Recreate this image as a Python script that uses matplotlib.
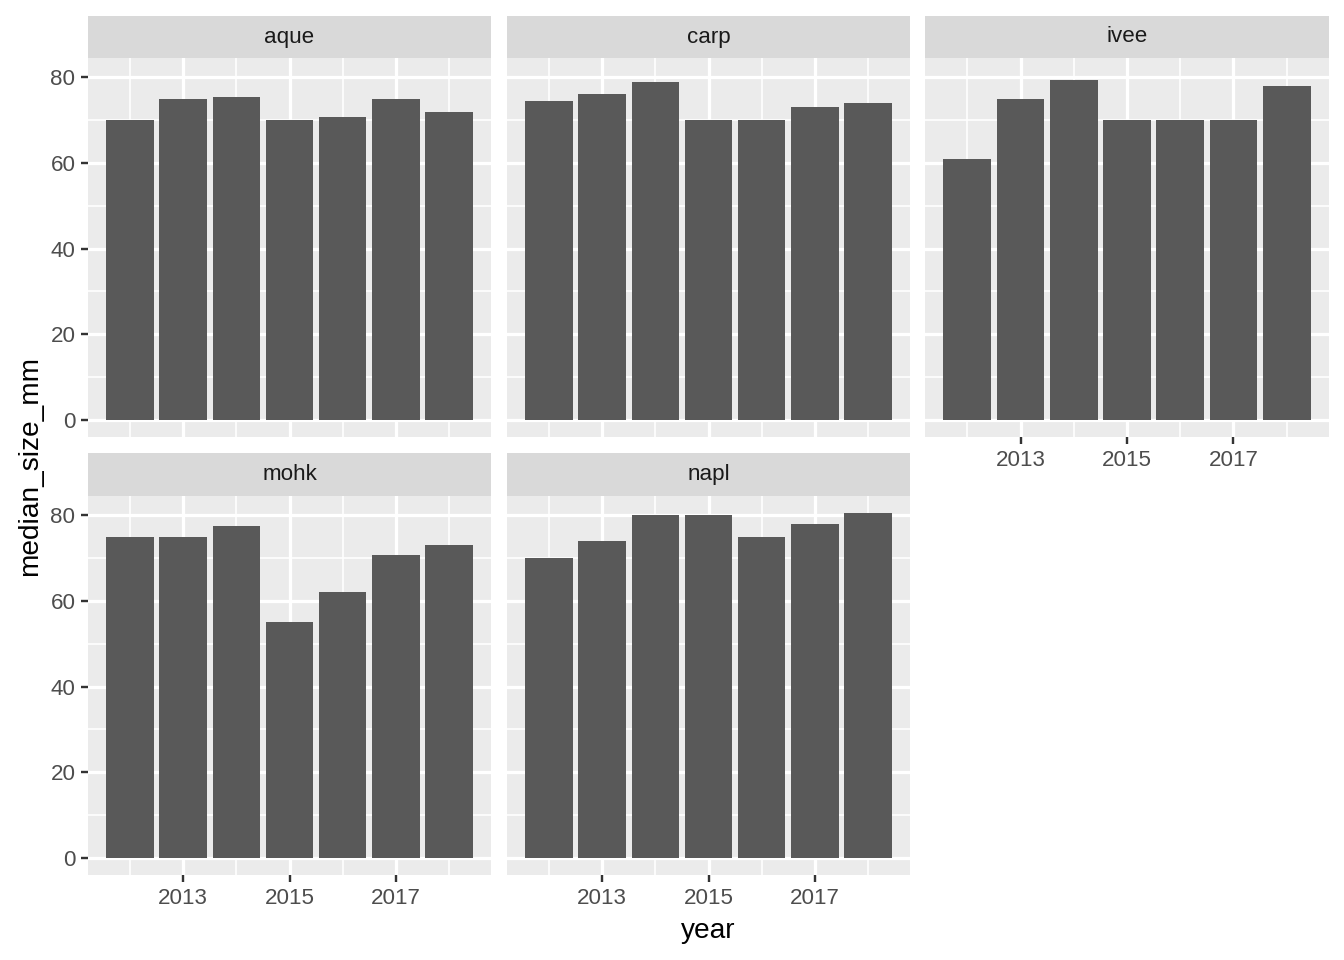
import matplotlib
matplotlib.use("Agg")
import matplotlib.pyplot as plt
import numpy as np

plt.rcParams['font.family'] = ['Liberation Sans', 'DejaVu Sans']

# data
years = [2012, 2013, 2014, 2015, 2016, 2017, 2018]
sites = ["aque", "carp", "ivee", "mohk", "napl"]
aque = [70, 75, 75.5, 70, 70.8, 75, 72]
carp = [74.4, 76, 79, 70, 70, 73, 74]
ivee = [61, 75, 79.5, 70, 70, 70, 78]
mohk = [75, 75, 77.4, 55, 62, 70.8, 73]
napl = [70, 74, 80, 80, 75, 78, 80.5]
values = [aque, carp, ivee, mohk, napl]

W, H = 1344, 960
fig = plt.figure(figsize=(W / 144, H / 144), dpi=144)

cols = [(88, 491), (507, 910), (925, 1329)]
rows = [(58, 437, 16), (496, 875, 453)]  # panel top, panel bottom, strip top

ymax = max(max(v) for v in values)
ypad = 0.05 * ymax
xlo, xhi = years[0] - 0.45, years[-1] + 0.45
xpad = 0.05 * (xhi - xlo)

for i, site in enumerate(sites):
    r, c = divmod(i, 3)
    x0, x1 = cols[c]
    top, bot, stop = rows[r]
    ax = fig.add_axes([x0 / W, 1 - bot / H, (x1 - x0) / W, (bot - top) / H])
    ax.set_facecolor('#EBEBEB')
    ax.bar(years, values[i], width=0.9, color='#595959', zorder=3)
    ax.set_xlim(xlo - xpad, xhi + xpad)
    ax.set_ylim(-ypad, ymax + ypad)
    ax.set_xticks([2013, 2015, 2017])
    ax.set_xticks([2012, 2014, 2016, 2018], minor=True)
    ax.set_yticks([0, 20, 40, 60, 80])
    ax.set_yticks([10, 30, 50, 70], minor=True)
    ax.grid(which='major', color='white', linewidth=1.6, zorder=1)
    ax.grid(which='minor', color='white', linewidth=0.8, zorder=1)
    ax.set_axisbelow(True)
    for s in ax.spines.values():
        s.set_visible(False)
    ax.tick_params(which='minor', length=0)
    ax.tick_params(which='major', length=3.5, width=1.2, color='#333333',
                   labelsize=11.2, labelcolor='#4D4D4D', pad=2.8)
    # x axis only where nothing below
    if i < 2:
        ax.tick_params(axis='x', which='major', length=0, labelbottom=False)
    if c != 0:
        ax.tick_params(axis='y', which='major', length=0, labelleft=False)

    # strip
    sax = fig.add_axes([x0 / W, 1 - top / H, (x1 - x0) / W, (top - stop) / H])
    sax.set_facecolor('#D9D9D9')
    sax.set_xticks([])
    sax.set_yticks([])
    for s in sax.spines.values():
        s.set_visible(False)
    sax.text(0.5, 0.5, site, ha='center', va='center', fontsize=11.2,
             color='#1A1A1A', transform=sax.transAxes)

fig.text(708 / W, 1 - 931 / H, "year", ha='center', va='center', fontsize=14)
fig.text(30 / W, 1 - 466 / H, "median_size_mm", ha='center', va='center',
         rotation=90, fontsize=14)

fig.savefig("out.png", dpi=144, facecolor='white')
